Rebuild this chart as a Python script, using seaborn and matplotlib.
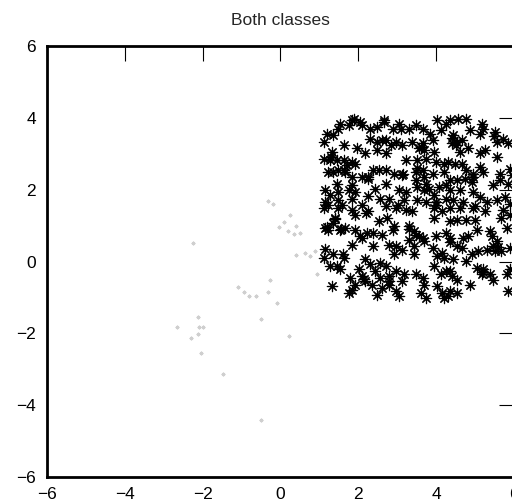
import numpy as np
import pandas as pd
import matplotlib
matplotlib.use("Agg")
import matplotlib.pyplot as plt
import seaborn as sns

# class 1: dense cluster (drawn as asterisks)
class1_x = [
    1.83, 2.05, 1.75, 2.09, 1.53, 1.49, 1.19, 1.36, 1.11, 2.31, 2.48, 2.31, 2.48, 2.65, 2.61,
    1.62, 1.96, 1.32, 2.18, 1.11, 1.28, 1.45, 1.62, 1.83, 1.92, 2.48, 2.52, 2.39, 1.36, 1.49,
    1.62, 1.23, 1.83, 2.09, 2.26, 1.83, 1.45, 2.43, 1.15, 1.28, 1.49, 1.75, 1.92, 2.26, 2.56,
    1.23, 1.58, 1.49, 1.83, 2.09, 1.15,
    2.66, 3.05, 2.88, 3.09, 3.31, 3.48, 3.65, 4.03, 4.12, 4.25, 2.71, 2.96, 2.83, 3.13, 3.39,
    3.65, 3.69, 3.56, 3.91, 3.95, 2.72, 3.22, 3.52, 3.73, 3.99, 4.21, 2.71, 2.92, 3.13, 3.48,
    3.65, 3.69, 3.91, 4.21, 2.71, 3.48, 3.73, 3.52, 3.05, 3.22, 3.82, 4.08, 4.25, 2.79, 3.01,
    3.18, 3.52, 3.73, 3.95, 4.25, 3.99,
    4.36, 4.57, 4.78, 4.87, 5.17, 5.13, 5.21, 5.51, 5.56, 5.73, 5.86, 4.44, 4.53, 4.66, 4.40,
    4.61, 4.83, 5.13, 5.26, 5.56, 4.31, 4.48, 4.66, 4.78, 5.13, 5.21, 4.96, 5.90, 5.64, 5.64,
    4.36, 4.53, 4.74, 4.91, 5.47, 5.86, 4.36, 4.61, 4.96, 5.13, 5.30, 5.77, 4.44, 4.70, 5.56,
    5.90,
    1.11, 1.49, 1.83, 1.92, 2.26, 2.52, 1.41, 1.36, 1.15, 1.23, 1.53, 1.66, 1.92, 2.05, 2.09,
    2.22, 2.39, 2.61, 1.83, 2.39, 1.15, 1.36, 1.62, 1.11, 1.28, 1.45, 1.53, 2.18, 2.31, 2.56,
    2.43, 2.01, 2.09, 2.18, 1.79, 1.92, 1.83, 1.32, 1.75, 2.35, 2.56, 2.48, 2.61,
    2.71, 2.96, 3.22, 3.39, 3.95, 4.16, 2.75, 2.92, 2.88, 3.31, 3.43, 3.48, 3.65, 3.69, 3.95,
    3.99, 4.25, 3.31, 2.79, 2.96, 2.92, 3.13, 3.43, 3.43, 3.91, 4.03, 4.21, 2.71, 2.79, 2.96,
    3.18, 3.13, 3.48, 3.65, 3.69, 3.95, 4.12, 4.25, 2.79, 2.96, 3.05, 3.61, 3.73, 4.03, 4.16,
    4.21,
    4.36, 4.61, 4.96, 5.26, 5.73, 5.90, 4.36, 4.53, 4.78, 5.00, 5.04, 5.38, 5.68, 5.81, 4.36,
    4.70, 4.83, 5.43, 5.56, 5.47, 4.53, 4.66, 5.30, 5.51, 5.68, 5.90, 4.91, 5.08, 4.44, 4.78,
    5.04, 5.21, 5.17, 5.38, 5.90, 5.81, 4.36, 4.40, 4.53, 4.87, 5.47, 4.36, 4.53, 5.86, 4.31,
    # extra points hidden inside the dark clumps
    1.90, 1.70, 1.30, 1.55, 2.20, 3.60, 3.50, 3.15, 4.40, 4.50, 4.95, 5.00, 1.40, 1.60, 2.15,
    3.55, 3.30, 4.00, 4.35, 5.20, 1.65, 2.25, 3.70, 3.85, 5.60, 5.50, 2.80, 4.15, 5.95, 1.20,
]
class1_y = [
    3.93, 3.89, 3.80, 3.80, 3.84, 3.70, 3.56, 3.52, 3.33, 3.70, 3.75, 3.42, 3.33, 3.89, 3.38,
    3.24, 3.15, 3.05, 3.01, 2.87, 2.82, 2.82, 2.82, 2.77, 2.73, 3.10, 2.54, 2.54, 2.50, 2.54,
    2.54, 2.50, 2.36, 2.36, 2.36, 2.12, 2.17, 2.03, 1.99, 1.85, 1.94, 1.99, 1.94, 1.83, 1.75,
    1.57, 1.57, 1.71, 1.75, 1.57, 1.66,
    3.93, 3.84, 3.70, 3.70, 3.70, 3.80, 3.70, 3.93, 3.66, 3.84, 3.38, 3.33, 3.24, 3.24, 3.33,
    3.29, 3.10, 3.15, 3.38, 3.05, 3.01, 2.82, 2.82, 2.87, 2.77, 2.73, 2.54, 2.45, 2.40, 2.50,
    2.54, 2.36, 2.45, 2.50, 2.17, 2.26, 2.17, 2.08, 1.99, 1.94, 2.03, 2.08, 2.12, 1.75, 1.57,
    1.71, 1.71, 1.66, 1.85, 1.75, 1.57,
    3.93, 3.98, 3.98, 3.66, 3.84, 3.56, 3.70, 3.61, 3.33, 3.42, 3.29, 3.52, 3.33, 3.38, 3.29,
    3.05, 3.15, 3.01, 3.10, 2.91, 2.77, 2.73, 2.73, 2.54, 2.63, 2.50, 2.45, 2.59, 2.45, 2.26,
    2.26, 2.26, 2.31, 2.22, 2.12, 2.17, 1.99, 1.99, 1.94, 1.80, 1.66, 1.80, 1.71, 1.66, 1.71,
    1.61,
    1.50, 1.50, 1.45, 1.31, 1.40, 1.12, 1.22, 1.08, 0.94, 0.89, 0.89, 0.94, 0.89, 0.71, 0.66,
    0.80, 0.80, 0.75, 0.47, 0.43, 0.34, 0.20, 0.10, 0.10, -0.13, -0.13, -0.22, 0.06, -0.08, -0.04,
    -0.27, -0.22, -0.41, -0.55, -0.45, -0.64, -0.78, -0.69, -0.87, -0.64, -0.45, -0.92, -0.73,
    1.54, 1.50, 1.45, 1.40, 1.50, 1.40, 1.22, 0.98, 0.89, 0.98, 0.84, 0.75, 0.66, 0.57, 1.22,
    0.71, 0.80, 0.61, 0.47, 0.43, 0.20, 0.33, 0.43, 0.20, 0.38, 0.15, 0.10, -0.13, -0.41, -0.27,
    -0.36, -0.55, -0.36, -0.45, -0.64, -0.13, -0.36, -0.27, -0.64, -0.83, -0.97, -0.87, -1.01, -0.69, -0.87,
    -1.01,
    1.50, 1.50, 1.50, 1.40, 1.45, 1.31, 1.12, 1.17, 1.17, 1.17, 0.89, 0.84, 1.22, 0.94, 0.66,
    0.66, 0.71, 0.71, 0.57, 0.43, 0.43, 0.38, 0.33, 0.29, 0.29, 0.38, 0.20, 0.29, 0.06, 0.01,
    -0.18, -0.22, -0.36, -0.36, -0.22, -0.36, -0.27, -0.41, -0.50, -0.64, -0.50, -0.83, -0.87, -0.83, -0.97,
    # extra points hidden inside the dark clumps
    3.98, 2.70, 2.92, 0.92, 1.35, 3.20, 2.60, 2.45, 3.45, 3.25, 2.35, 1.55, 1.18, 0.20, -0.48,
    0.70, 0.90, 1.65, 0.55, -0.30, 2.50, 2.30, 2.00, 3.55, 0.40, 3.50, -0.55, 0.25, 2.40, 0.95,
]

# class 2: sparse faint points
class2_x = [-0.33, -0.20, -0.05, 0.10, 0.25, 0.40, 0.50, 0.20, 0.35, -2.26, 0.64, 0.75, 0.90,
            -1.10, -0.95, -0.80, -0.28, -0.33, -0.10, -0.64, -2.13, -2.65, -2.10, -2.00,
            -2.13, -2.29, -2.03, -1.47, -0.49, 0.23, 0.41, 0.93, -0.49]
class2_y = [1.70, 1.60, 0.95, 1.10, 1.30, 1.00, 0.80, 0.85, 0.78, 0.53, 0.25, 0.15, 0.30,
            -0.72, -0.85, -0.95, -0.50, -0.86, -1.14, -0.97, -1.53, -1.81, -1.81, -1.81,
            -2.03, -2.14, -2.56, -3.12, -1.59, -2.06, 0.17, -0.36, -4.40]

ticks = [-6, -4, -2, 0, 2, 4, 6]

df1 = pd.DataFrame({"x": class1_x, "y": class1_y})
df2 = pd.DataFrame({"x": class2_x, "y": class2_y})

sns.set_style("white")
plt.rcParams["font.family"] = ["Liberation Sans", "DejaVu Sans"]

fig = plt.figure(figsize=(5.12, 5.01), dpi=100)
ax = fig.add_axes([0.0918, 0.0479, 0.912, 0.860])

sns.scatterplot(data=df2, x="x", y="y", ax=ax, marker=(8, 2, 0), s=8,
                color="#cfcfcf", linewidth=0.4)
sns.scatterplot(data=df1, x="x", y="y", ax=ax, marker=(8, 2, 0), s=55,
                color="black", linewidth=0.85)

ax.set_xlim(-6, 6)
ax.set_ylim(-6, 6)
ax.set_xticks(ticks)
ax.set_yticks(ticks)
ax.set_xlabel("")
ax.set_ylabel("")
ax.set_title("Both classes", fontsize=12.5, pad=15)

for s in ax.spines.values():
    s.set_linewidth(2)
    s.set_color("black")
ax.tick_params(direction="in", length=11, width=0.8, top=True, right=True,
               labelsize=12.5, colors="black")
ax.tick_params(axis="x", pad=7)
ax.tick_params(axis="y", pad=8)

fig.savefig("out.png", dpi=100)
